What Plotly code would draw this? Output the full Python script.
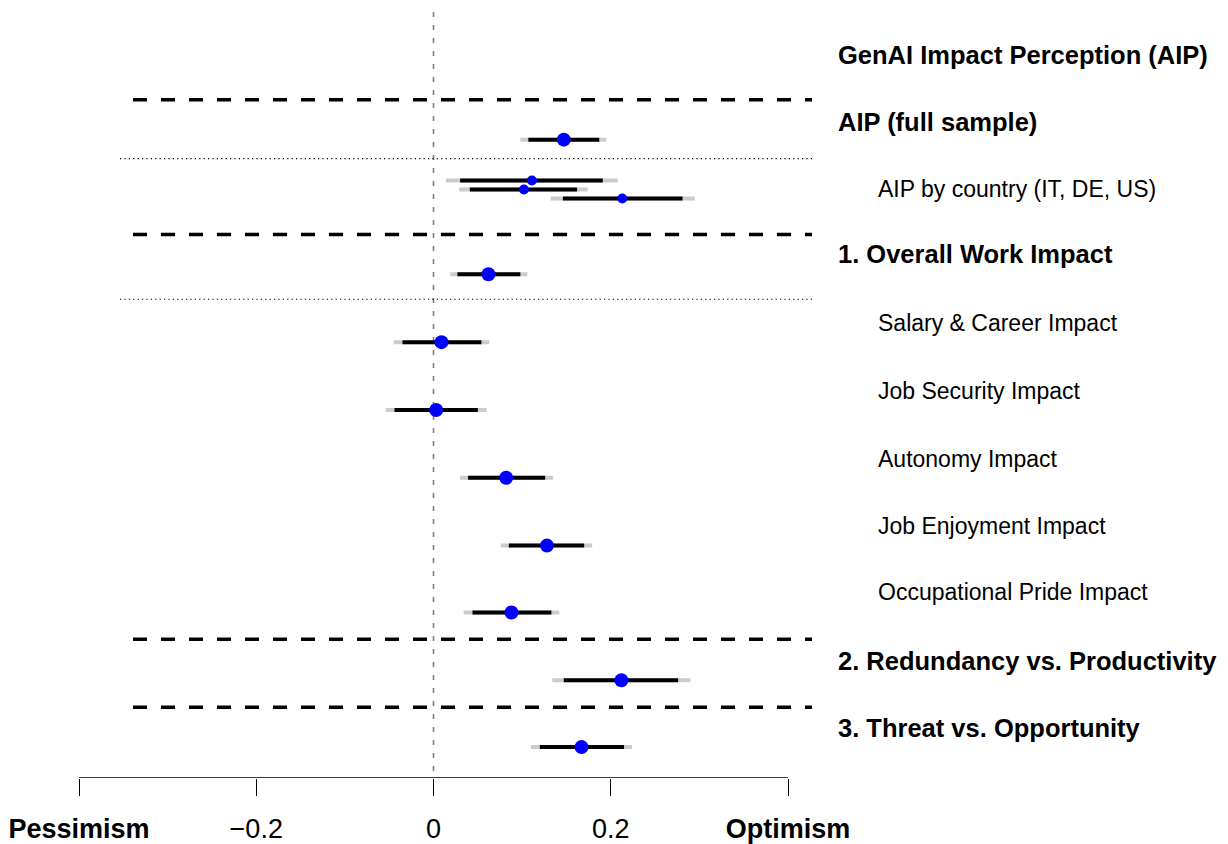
import plotly.graph_objects as go

# ---- data ----
row_labels = ["AIP (full sample)", "AIP by country (IT, DE, US)", "1. Overall Work Impact",
              "Salary & Career Impact", "Job Security Impact", "Autonomy Impact",
              "Job Enjoyment Impact", "Occupational Pride Impact",
              "2. Redundancy vs. Productivity", "3. Threat vs. Opportunity"]
row_bold = [True, False, True, False, False, False, False, False, True, True]
title_label = "GenAI Impact Perception (AIP)"

# estimates: full, IT, DE, US, overall, salary, job security, autonomy, enjoyment, pride, redundancy, threat
estimate = [0.147, 0.111, 0.102, 0.213, 0.062, 0.009, 0.003, 0.082, 0.128, 0.088, 0.212, 0.167]
ci_inner_lo = [0.107, 0.030, 0.041, 0.146, 0.027, -0.035, -0.044, 0.039, 0.085, 0.044, 0.147, 0.120]
ci_inner_hi = [0.187, 0.191, 0.162, 0.281, 0.098, 0.054, 0.050, 0.126, 0.170, 0.133, 0.276, 0.215]
ci_outer_lo = [0.098, 0.014, 0.029, 0.132, 0.019, -0.045, -0.054, 0.030, 0.076, 0.034, 0.134, 0.110]
ci_outer_hi = [0.195, 0.208, 0.174, 0.295, 0.106, 0.063, 0.060, 0.135, 0.179, 0.142, 0.290, 0.224]
small_point = [False, True, True, True, False, False, False, False, False, False, False, False]

tick_vals = [-0.4, -0.2, 0, 0.2, 0.4]
tick_text = ["<b>Pessimism</b>", "\u22120.2", "0", "0.2", "<b>Optimism</b>"]

# ---- layout (vertical positions on a page-pixel-like row scale) ----
point_y = [140, 181, 190, 199, 275, 343, 411, 479, 547, 614, 682, 749]
label_y = [122, 189, 255, 324, 392, 460, 527, 594, 663, 730]
title_y = 55
dashed_y = [100, 235, 641, 709]
dotted_y = [159, 300]

OFF = 8                      # default page body margin
W, H = 1228 - OFF, 844 - OFF
AXIS_Y = 780
px_per_unit = 709 / 0.8
x_lo = -0.4 - (79 - OFF) / px_per_unit
x_hi = 0.4 + (1228 - 788) / px_per_unit
def xv(px):
    return x_lo + (px - OFF) / px_per_unit

FONT = "Liberation Sans, Arial, sans-serif"

fig = go.Figure()

gx, gy = [], []
for lo, hi, y in zip(ci_outer_lo, ci_outer_hi, point_y):
    gx += [lo, hi, None]; gy += [y, y, None]
fig.add_trace(go.Scatter(x=gx, y=gy, mode="lines", line=dict(color="#CCCCCC", width=4),
                         hoverinfo="skip", showlegend=False))
bx, by = [], []
for lo, hi, y in zip(ci_inner_lo, ci_inner_hi, point_y):
    bx += [lo, hi, None]; by += [y, y, None]
fig.add_trace(go.Scatter(x=bx, y=by, mode="lines", line=dict(color="black", width=4),
                         hoverinfo="skip", showlegend=False))
fig.add_trace(go.Scatter(x=estimate, y=point_y, mode="markers",
                         marker=dict(color="#0000FF", opacity=1,
                                     size=[10 if s else 14 for s in small_point],
                                     line=dict(width=0)),
                         showlegend=False))

shapes = []
shapes.append(dict(type="line", xref="x", yref="y", x0=0, x1=0, y0=12, y1=776,
                   line=dict(color="#7F7F7F", width=1.6, dash="5px,8px"), layer="below"))
for y in dashed_y:
    shapes.append(dict(type="line", xref="x", yref="y", x0=xv(133), x1=xv(812), y0=y, y1=y,
                       line=dict(color="black", width=3.5, dash="14px,14px")))
for y in dotted_y:
    shapes.append(dict(type="line", xref="x", yref="y", x0=xv(120), x1=xv(815), y0=y, y1=y,
                       line=dict(color="black", width=1.2, dash="1.2px,3.2px")))
shapes.append(dict(type="line", xref="x", yref="y", x0=-0.4, x1=0.4, y0=AXIS_Y, y1=AXIS_Y,
                   line=dict(color="black", width=1.3)))

annotations = []
annotations.append(dict(x=xv(836), y=title_y, xref="x", yref="y", text="<b>" + title_label + "</b>",
                        showarrow=False, xanchor="left", yanchor="middle",
                        font=dict(family=FONT, size=25.5, color="black")))
for lab, b, y in zip(row_labels, row_bold, label_y):
    annotations.append(dict(x=xv(836 if b else 876), y=y, xref="x", yref="y",
                            text=("<b>" + lab + "</b>") if b else lab,
                            showarrow=False, xanchor="left", yanchor="middle",
                            font=dict(family=FONT, size=25.5 if b else 23, color="black")))

fig.update_layout(
    width=W, height=H, margin=dict(l=0, r=0, t=0, b=H - (AXIS_Y - OFF)),
    paper_bgcolor="white", plot_bgcolor="white",
    shapes=shapes, annotations=annotations,
    xaxis=dict(range=[x_lo, x_hi], showgrid=False, zeroline=False, showline=False,
               tickmode="array", tickvals=tick_vals, ticktext=tick_text,
               ticks="outside", ticklen=17, tickwidth=1.3, tickcolor="black",
               tickfont=dict(family=FONT, size=27, color="black"), ticklabelstandoff=10),
    yaxis=dict(range=[AXIS_Y, OFF], showgrid=False, zeroline=False, showline=False,
               showticklabels=False, ticks=""),
    font=dict(family=FONT),
)

fig.write_html("out.html")
